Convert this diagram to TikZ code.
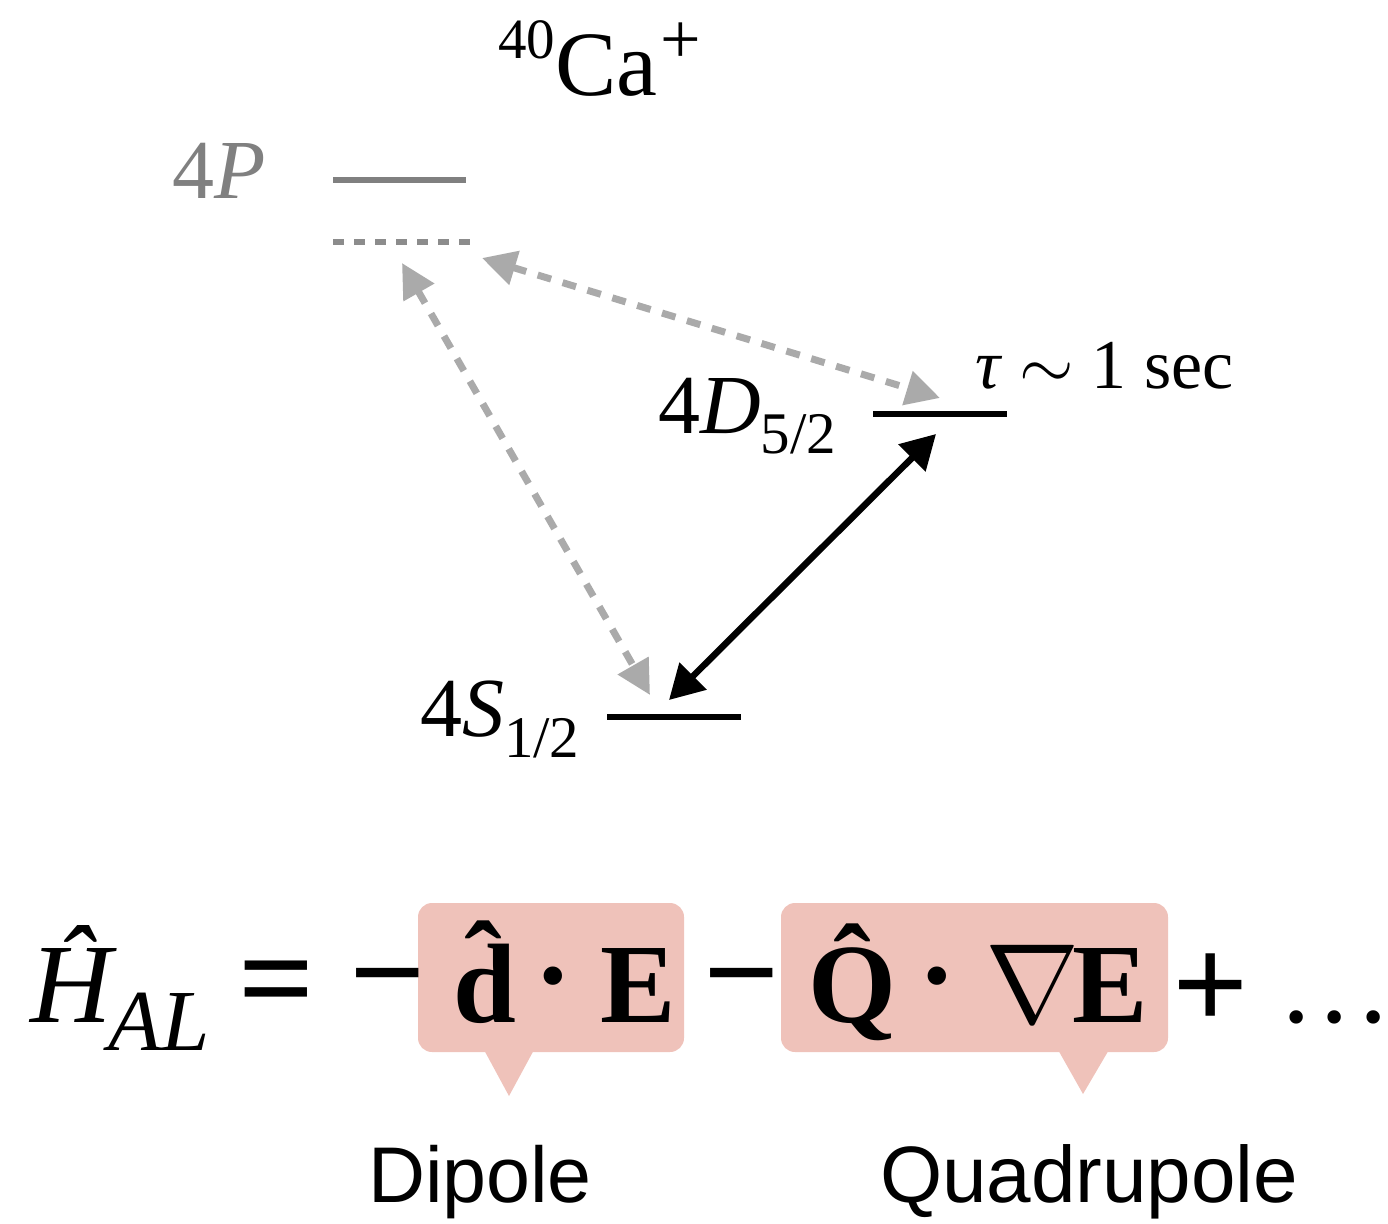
\RequirePackage{fix-cm}
\documentclass[tikz,border=0pt]{standalone}
\usepackage{fontspec}
\setmainfont{Liberation Serif}
\newfontfamily\lblsans{Liberation Sans}
\usetikzlibrary{arrows.meta}
\definecolor{lvlgray}{HTML}{808080}
\definecolor{dashgray}{HTML}{8C8C8C}
\definecolor{arrgray}{HTML}{AAAAAA}
\definecolor{boxpink}{HTML}{EFC2BA}
\newcommand\fsz[1]{\fontsize{#1}{#1}\selectfont}
\begin{document}
\begin{tikzpicture}[x=1pt,y=-1pt,
  every node/.style={inner sep=0pt,outer sep=0pt},
  level/.style={line width=5.5pt},
  garrow/.style={draw=arrgray,line width=7pt,dash pattern=on 14pt off 12pt,
     {Triangle[length=34pt,width=34pt,fill=arrgray]}-{Triangle[length=34pt,width=34pt,fill=arrgray]}},
  barrow/.style={draw=black,line width=6.5pt,
     {Triangle[length=34pt,width=37pt]}-{Triangle[length=34pt,width=37pt]}},
  lbl/.style={anchor=base west},
  op/.style={font=\fsz{134}\bfseries},
  callout/.style={fill=boxpink}]
\useasboundingbox (0,0) rectangle (1388,1223);

% title
\node[lbl,font=\fsz{92}] (title) at (498,95) {\raisebox{36pt}{\fsz{57}40}Ca\hspace{3pt}\raisebox{32pt}{\fsz{72}+}};

% levels
\draw[level,lvlgray] (333,180) -- (466,180);
\draw[level,dashgray,dash pattern=on 11pt off 10pt] (333,242) -- (470,242);
\draw[level,black] (873,414) -- (1007,414);
\draw[level,black] (607,717) -- (741,717);

% level labels
\node[lbl,text=lvlgray,font=\fsz{84}] (lP) at (172,198) {4\textit{P}};
\node[lbl,font=\fsz{84}] (lD) at (658,433) {4\textit{D}\raisebox{-20pt}{\fsz{59}5/2}};
\node[lbl,font=\fsz{84}] (lS) at (420,736) {4\textit{S}\raisebox{-21pt}{\fsz{59}1/2}};
\node[lbl,font=\fsz{70}] (tau) at (975,388) {\textit{τ} $\sim$ 1 sec};

% transitions
\coordinate (pA) at (402,263);
\coordinate (sA) at (650,695);
\coordinate (pB) at (482,258);
\coordinate (dB) at (940,398);
\coordinate (dC) at (936,434);
\coordinate (sC) at (669,700);
\draw[garrow] (pA) -- (sA);
\draw[garrow] (pB) -- (dB);
\draw[barrow] (dC) -- (sC);

% callout boxes
\fill[callout,rounded corners=14pt] (418,903) rectangle (684,1052);
\fill[callout] (483,1048) -- (535,1048) -- (509,1096) -- cycle;
\fill[callout,rounded corners=14pt] (781,903) rectangle (1168,1052);
\fill[callout] (1057,1048) -- (1110,1048) -- (1083,1094) -- cycle;

% equation
\node[lbl,font=\fsz{113}] (H) at (30,1022) {\textit{\^H}};
\node[lbl,font=\fsz{87}] (HAL) at (108,1050) {\textit{AL}};
\node[op] (eq) at (277,992) {=};
\node[op] (m1) at (388,993) {−};
\node[lbl,font=\fsz{113}\bfseries] (d) at (453,1022) {\^d};
\node[font=\fsz{113}\bfseries] (c1) at (553,990) {·};
\node[lbl,font=\fsz{113}\bfseries] (E1) at (600,1022) {E};
\node[op] (m2) at (742,993) {−};
\node[lbl,font=\fsz{113}\bfseries] (Q) at (808,1022) {\^Q};
\node[font=\fsz{113}\bfseries] (c2) at (937,990) {·};
\node[lbl,font=\fsz{113}] (nab) at (985,1022) {$\nabla$};
\node[lbl,font=\fsz{113}\bfseries] (E2) at (1072,1022) {E};
\node[op] (pl) at (1211,992) {+};
\node[lbl,font=\fsz{113}] (dots) at (1282,1022) {.\hspace{10.5pt}.\hspace{10.5pt}.};

% labels
\node[lbl,font=\lblsans\fsz{79}] (dip) at (368,1202) {Dipole};
\node[lbl,font=\lblsans\fsz{80}] (quad) at (880,1202) {Quadrupole};
\end{tikzpicture}
\end{document}
